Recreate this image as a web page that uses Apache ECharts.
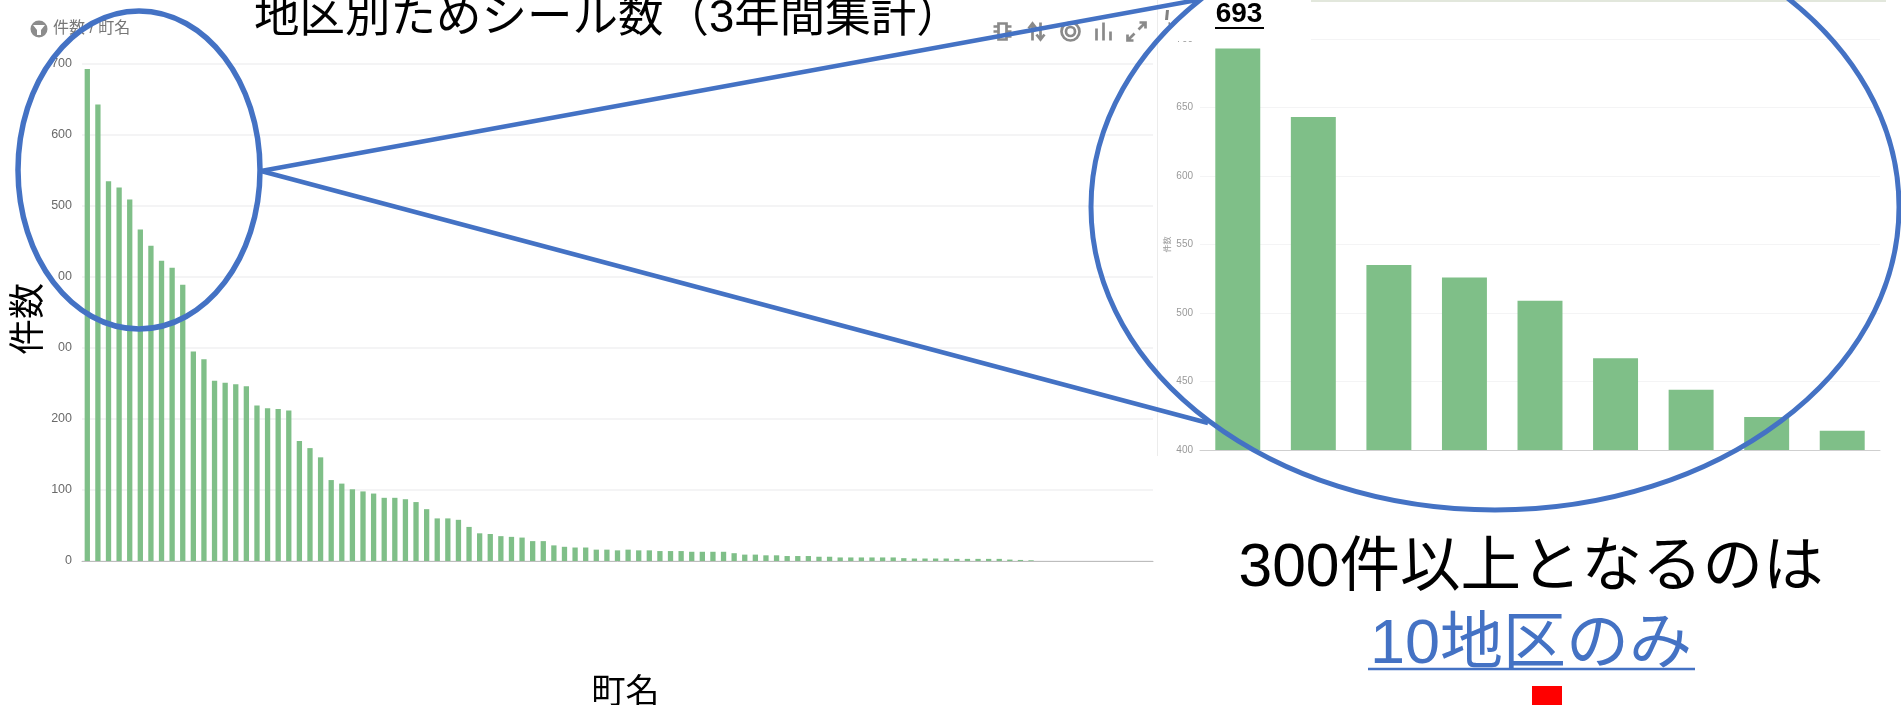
<!DOCTYPE html>
<html><head><meta charset="utf-8">
<style>html,body{margin:0;padding:0;background:#fff;overflow:hidden}#c{width:1901px;height:705px}</style>
<script src="https://cdn.jsdelivr.net/npm/echarts@6/dist/echarts.min.js"></script>
</head><body><div id="c"></div>
<script>
const districtCounts = [693,643,535,526,509,467,444,423,413,389,295,284,254,251,249,246,219,215,214,212,
  169,159,146,114,109,101,98,95,89,89,87,83,73,60,60,58,48,39,38,35,34,33,28,28,22,20,19,19,16,16,15,16,15,15,
  14,14,14,13,13,13,13,11,9,9,8,8,7,7,7,6,6,5,5,5,5,5,5,4,3.5,3.5,3.5,3.5,3,3,3,3,3,2,1.5,1,0,0,0,0,0,0,0,0,0,0,0];
const topCounts = [693,643,535,526,509,467,444,424,414];
const districtNames = districtCounts.map((_, i) => '町' + (i + 1));
const topNames = topCounts.map((_, i) => '町' + (i + 1));

const titleText = '地区別ためシール数（3年間集計）';
const filterText = '件数 / 町名';
const yAxisTitle = '件数';
const xAxisTitle = '町名';
const topValueText = '693';
const noteLine1 = '300件以上となるのは';
const noteLine2 = '10地区のみ';

const SANS = '"Liberation Sans","Noto Sans CJK JP",sans-serif';
const BLUE = '#4472C4';
const GREEN = '#7FBF88';
const noop = function () {};
const tool = (path) => ({ show: true, title: '', icon: 'path://' + path, onclick: noop });

const chart = echarts.init(document.getElementById('c'), null, { renderer: 'canvas' });
chart.setOption({
  animation: false,
  backgroundColor: '#ffffff',
  textStyle: { fontFamily: SANS },
  title: {
    text: titleText, left: 254, top: -3, padding: 0,
    textStyle: { fontFamily: SANS, fontSize: 45.5, fontWeight: 'normal', color: '#000' }
  },
  toolbox: {
    left: 991, top: 20, padding: 0, itemSize: 18, itemGap: 12, showTitle: false,
    iconStyle: { color: 'none', borderColor: '#8a8a8a', borderWidth: 2.7 },
    feature: {
      myA: tool('M5 1h8v16h-8z M0 4h5 M13 4h5 M0 9h5 M13 9h5 M0 14h5 M13 14h5'),
      myB: tool('M5 18V1 M1 6l4-5 4 5 M13 0v17 M9 12l4 5 4-5'),
      myC: tool('M9 0a9 9 0 1 0 0.01 0z M9 4.5a4.5 4.5 0 1 0 0.01 0z'),
      myD: tool('M2 18V6 M9 18V0 M16 18V9'),
      myE: tool('M18 0L11 7 M12 0h6v6 M0 18l7-7 M0 12v6h6'),
      myF: tool('M0 0h0 M18 18h0 M6 1h10 M9 9h7 M9 17h7')
    }
  },
  grid: [
    { left: 82, top: 64, width: 1071, height: 497, outerBoundsMode: 'none' },
    { left: 1200, top: 39, width: 680, height: 411, outerBoundsMode: 'none' }
  ],
  xAxis: [
    { type: 'category', gridIndex: 0, data: districtNames, axisTick: { show: false }, axisLabel: { show: false },
      axisLine: { lineStyle: { color: '#bdbdbd', width: 1 } },
      name: xAxisTitle, nameLocation: 'middle', nameGap: 116,
      nameTextStyle: { fontFamily: SANS, fontSize: 34, color: '#000', padding: [0, 0, 0, 16] } },
    { type: 'category', gridIndex: 1, data: topNames, axisTick: { show: false }, axisLabel: { show: false },
      axisLine: { lineStyle: { color: '#cfcfcf', width: 1 } } }
  ],
  yAxis: [
    { type: 'value', gridIndex: 0, min: 0, max: 700, interval: 100,
      axisLine: { show: false }, axisTick: { show: false },
      axisLabel: { fontSize: 12.5, color: '#6a6a6a', margin: 10 },
      splitLine: { lineStyle: { color: '#f0f0f2', width: 1.5 } } },
    { type: 'value', gridIndex: 1, min: 400, max: 700, interval: 50,
      axisLine: { show: false }, axisTick: { show: false },
      axisLabel: { fontSize: 10, color: '#999', margin: 7 },
      splitLine: { lineStyle: { color: '#f4f4f5', width: 1 } },
      name: yAxisTitle, nameLocation: 'middle', nameRotate: 90, nameGap: 28,
      nameTextStyle: { fontFamily: SANS, fontSize: 8, color: '#999' } }
  ],
  series: [
    { type: 'bar', xAxisIndex: 0, yAxisIndex: 0, data: districtCounts, barWidth: '50%', itemStyle: { color: GREEN }, silent: true },
    { type: 'bar', xAxisIndex: 1, yAxisIndex: 1, data: topCounts, barWidth: '59.5%', itemStyle: { color: GREEN }, silent: true }
  ],
  graphic: { elements: [
    { type: 'rect', z: 40, shape: { x: 0, y: 268, width: 58, height: 100 }, style: { fill: '#fff' } },
    { type: 'text', z: 42, x: 30, y: 319, rotation: Math.PI / 2, style: { text: yAxisTitle, fontFamily: SANS, fontSize: 36, fill: '#000', align: 'center', verticalAlign: 'middle' } },
    { type: 'line', z: 40, shape: { x1: 1157.5, y1: 0, x2: 1157.5, y2: 456 }, style: { stroke: '#ececec', lineWidth: 1 } },
    { type: 'line', z: 40, shape: { x1: 1311, y1: 1, x2: 1886, y2: 1 }, style: { stroke: '#d8dfd0', lineWidth: 1.5 } },
    { type: 'polygon', z: 40, shape: { points: [[1166, 10], [1169, 10], [1168, 20], [1165, 20]] }, style: { fill: '#808080' } },
    { type: 'rect', z: 41, shape: { x: 1170, y: 0, width: 141, height: 41 }, style: { fill: '#fff' } },
    { type: 'text', z: 42, x: 1239, y: 14, style: { text: topValueText, fontFamily: SANS, fontSize: 28, fontWeight: 'bold', fill: '#000', align: 'center', verticalAlign: 'middle' } },
    { type: 'line', z: 42, shape: { x1: 1215, y1: 28, x2: 1264, y2: 28 }, style: { stroke: '#000', lineWidth: 2 } },
    { type: 'circle', z: 42, shape: { cx: 39, cy: 29, r: 8.5 }, style: { fill: '#8c8c8c' } },
    { type: 'polygon', z: 43, shape: { points: [[33, 25], [45, 25], [41, 30], [41, 35], [37, 35], [37, 30]] }, style: { fill: '#fff' } },
    { type: 'text', z: 42, x: 53, y: 29, style: { text: filterText, fontFamily: SANS, fontSize: 16, fill: '#777', verticalAlign: 'middle' } },
    { type: 'ellipse', z: 50, shape: { cx: 139, cy: 170, rx: 121, ry: 159 }, style: { fill: 'none', stroke: BLUE, lineWidth: 5.5 } },
    { type: 'ellipse', z: 50, shape: { cx: 1495, cy: 207, rx: 404, ry: 303 }, style: { fill: 'none', stroke: BLUE, lineWidth: 5 } },
    { type: 'line', z: 50, shape: { x1: 261, y1: 171, x2: 1197, y2: 0 }, style: { stroke: BLUE, lineWidth: 4.5 } },
    { type: 'line', z: 50, shape: { x1: 261, y1: 171, x2: 1208, y2: 423 }, style: { stroke: BLUE, lineWidth: 4.5 } },
    { type: 'text', z: 51, x: 1531, y: 569, style: { text: noteLine1, fontFamily: SANS, fontSize: 60.5, fill: '#000', align: 'center', verticalAlign: 'middle' } },
    { type: 'text', z: 51, x: 1531, y: 646, style: { text: noteLine2, fontFamily: SANS, fontSize: 63, fill: BLUE, align: 'center', verticalAlign: 'middle' } },
    { type: 'line', z: 51, shape: { x1: 1368, y1: 669, x2: 1695, y2: 669 }, style: { stroke: BLUE, lineWidth: 2.5 } },
    { type: 'rect', z: 51, shape: { x: 1532, y: 686, width: 30, height: 19 }, style: { fill: '#FF0000' } }
  ] }
});
</script></body></html>
